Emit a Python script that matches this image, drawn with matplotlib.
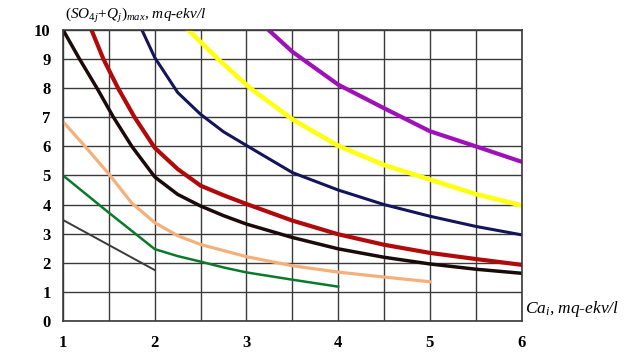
import numpy as np
import matplotlib
matplotlib.use("Agg")
import matplotlib.pyplot as plt
from matplotlib.ticker import MultipleLocator

plt.rcParams['font.family'] = 'Liberation Serif'
plt.rcParams['mathtext.fontset'] = 'custom'
plt.rcParams['mathtext.rm'] = 'Liberation Serif'
plt.rcParams['mathtext.it'] = 'Liberation Serif:italic'

# curves: (x values, y values)
x_gray = [1, 2]
y_gray = [3.47, 1.75]

x_green = [1, 1.5, 2, 2.25, 2.5, 2.75, 3, 3.5, 4]
y_green = [5.0, 3.72, 2.47, 2.23, 2.04, 1.84, 1.67, 1.42, 1.18]

x_tan = [1, 1.24, 1.5, 1.75, 2, 2.25, 2.5, 2.75, 3, 3.5, 4, 4.5, 5]
y_tan = [6.85, 6.0, 5.05, 4.05, 3.38, 2.93, 2.63, 2.42, 2.21, 1.9, 1.68, 1.51, 1.35]

x_black = [1, 1.18, 1.37, 1.55, 1.75, 2.0, 2.25, 2.5, 2.75, 3, 3.5, 4, 4.5, 5, 5.5, 6]
y_black = [10, 9.0, 8.0, 7.0, 6.0, 4.95, 4.35, 3.95, 3.62, 3.33, 2.87, 2.48, 2.19, 1.96, 1.78, 1.64]

x_red = [1.31, 1.44, 1.60, 1.78, 2.0, 2.25, 2.5, 2.75, 3, 3.5, 4, 4.5, 5, 5.5, 6]
y_red = [10, 9, 8, 7, 5.95, 5.22, 4.65, 4.32, 4.02, 3.45, 2.98, 2.62, 2.34, 2.13, 1.93]

x_navy = [1.86, 2.0, 2.25, 2.5, 2.75, 3.0, 3.5, 4, 4.5, 5, 5.5, 6]
y_navy = [10, 9.05, 7.85, 7.1, 6.5, 6.03, 5.1, 4.5, 4.0, 3.6, 3.25, 2.96]

x_yellow = [2.365, 2.69, 3.04, 3.5, 4, 4.5, 5, 5.5, 6]
y_yellow = [10, 9, 8, 6.93, 6.02, 5.36, 4.86, 4.36, 3.97]

x_magenta = [3.24, 3.5, 4, 4.5, 5, 5.5, 6]
y_magenta = [10, 9.25, 8.12, 7.31, 6.52, 6.0, 5.47]

fig = plt.figure(figsize=(6.24, 3.52), dpi=100)
ax = fig.add_axes([0.101, 0.088, 0.735, 0.827])

ax.plot(x_gray, y_gray, color='#3a3a3a', lw=1.4)
ax.plot(x_green, y_green, color='#0a7a2a', lw=1.8)
ax.plot(x_tan, y_tan, color='#f4b07a', lw=2.3)
ax.plot(x_black, y_black, color='#1a0a0a', lw=2.5)
ax.plot(x_red, y_red, color='#b00a0a', lw=3.0)
ax.plot(x_navy, y_navy, color='#14145a', lw=2.2)
ax.plot(x_yellow, y_yellow, color='#ffff10', lw=3.3)
ax.plot(x_magenta, y_magenta, color='#a010b8', lw=3.0)

ax.set_xlim(1, 6)
ax.set_ylim(0, 10)
ax.xaxis.set_major_locator(MultipleLocator(1))
ax.xaxis.set_minor_locator(MultipleLocator(0.5))
ax.yaxis.set_major_locator(MultipleLocator(1))
ax.grid(True, which='both', color='#3a3a3a', lw=1.0)
ax.set_axisbelow(True)
for s in ax.spines.values():
    s.set_color('#3a3a3a')
    s.set_linewidth(1.2)
ax.tick_params(which='both', length=0)
ax.tick_params(axis='x', pad=10, labelsize=12)
ax.tick_params(axis='y', pad=9, labelsize=12)
for lab in ax.get_xticklabels() + ax.get_yticklabels():
    lab.set_fontweight('bold')

fig.text(0.104, 0.955, r'$(SO_{4j}\!+\!Q_{j})_{max}$, mq-ekv/l', fontsize=11,
         style='italic', va='center', ha='left')
fig.text(0.842, 0.122, r'$Ca_{i}$, mq-ekv/l', fontsize=12.5, style='italic',
         va='center', ha='left')

fig.savefig('out.png', dpi=100)
